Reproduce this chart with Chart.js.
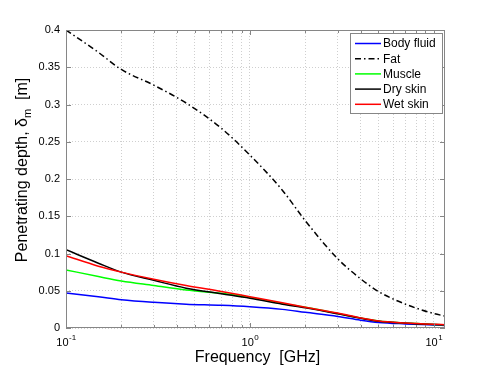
<!DOCTYPE html>
<html>
<head>
<meta charset="utf-8">
<script src="https://cdn.jsdelivr.net/npm/chart.js@4/dist/chart.umd.min.js"></script>
<style>
  html, body { margin: 0; padding: 0; background: #fff; }
  #wrap { width: 489px; height: 366px; }
</style>
</head>
<body>
<div id="wrap"><canvas id="chart" width="489" height="366"></canvas></div>
<script>
// frequency samples in GHz
const freqs     = [0.1,   0.15,  0.2,   0.3,    0.45,  0.7,   1,     1.5,   2,     3,      4,      5,      7,      10,     11.5];
const bodyFluid = [0.047, 0.042, 0.038, 0.0345, 0.032, 0.0305,0.0285,0.025, 0.021, 0.0155, 0.0105, 0.0075, 0.0055, 0.004,  0.0035];
const fat       = [0.400, 0.370, 0.347, 0.326,  0.302, 0.268, 0.232, 0.185, 0.144, 0.093,  0.066,  0.049,  0.032,  0.0194, 0.016];
const muscle    = [0.078, 0.069, 0.063, 0.057,  0.051, 0.0465,0.041, 0.033, 0.028, 0.0195, 0.0133, 0.0093, 0.0066, 0.0048, 0.0043];
const drySkin   = [0.105, 0.087, 0.075, 0.064,  0.0535,0.046, 0.040, 0.032, 0.027, 0.019,  0.013,  0.009,  0.0065, 0.0047, 0.0042];
const wetSkin   = [0.097, 0.083, 0.075, 0.0655, 0.057, 0.049, 0.042, 0.034, 0.028, 0.020,  0.0135, 0.0095, 0.0068, 0.005,  0.0045];

const seriesNames = ['Body fluid', 'Fat', 'Muscle', 'Dry skin', 'Wet skin'];
const yTicks = [0, 0.05, 0.1, 0.15, 0.2, 0.25, 0.3, 0.35, 0.4];
const xDecades = [0.1, 1, 10];
const xGridTicks = [0.1, 0.2, 0.3, 0.4, 0.5, 0.6, 0.7, 0.8, 0.9, 1, 2, 3, 4, 5, 6, 7, 8, 9, 10];

const FONT = '"Liberation Sans", Arial, Helvetica, sans-serif';
const AXIS = '#868686';

function toPoints(ys) {
  return freqs.map((f, i) => ({ x: f, y: ys[i] }));
}

const styles = [
  { color: '#0000ff', dash: [] },
  { color: '#000000', dash: [6, 3, 1.5, 3] },
  { color: '#00ff00', dash: [] },
  { color: '#000000', dash: [] },
  { color: '#ff0000', dash: [] }
];
const values = [bodyFluid, fat, muscle, drySkin, wetSkin];

const datasets = values.map((ys, i) => ({
  label: seriesNames[i],
  data: toPoints(ys),
  borderColor: styles[i].color,
  borderDash: styles[i].dash,
  borderWidth: 1.5,
  pointRadius: 0,
  cubicInterpolationMode: 'monotone',
  fill: false,
  order: values.length - i   // later series drawn on top, like MATLAB
}));

const decoration = {
  id: 'decoration',
  afterDraw(chart) {
    const { ctx, chartArea: a, scales } = chart;
    const xs = scales.x, ys = scales.y;
    ctx.save();

    // box
    ctx.strokeStyle = AXIS;
    ctx.lineWidth = 1;
    ctx.setLineDash([]);
    ctx.strokeRect(a.left + 0.5, a.top + 0.5, a.right - a.left - 1, a.bottom - a.top - 1);

    // inward tick marks
    ctx.beginPath();
    xGridTicks.forEach(v => {
      const x = Math.round(xs.getPixelForValue(v)) + 0.5;
      const len = xDecades.includes(v) ? 5 : 3;
      ctx.moveTo(x, a.bottom); ctx.lineTo(x, a.bottom - len);
      ctx.moveTo(x, a.top); ctx.lineTo(x, a.top + len);
    });
    yTicks.forEach(v => {
      const y = Math.round(ys.getPixelForValue(v)) + 0.5;
      ctx.moveTo(a.left, y); ctx.lineTo(a.left + 5, y);
      ctx.moveTo(a.right, y); ctx.lineTo(a.right - 5, y);
    });
    ctx.stroke();

    // x tick labels 10^n
    ctx.fillStyle = '#000';
    ctx.textBaseline = 'alphabetic';
    ctx.textAlign = 'left';
    xDecades.forEach(v => {
      const exp = String(Math.round(Math.log10(v)));
      ctx.font = '11px ' + FONT;
      const wb = ctx.measureText('10').width;
      ctx.font = '8px ' + FONT;
      const we = ctx.measureText(exp).width;
      const x0 = xs.getPixelForValue(v) - (wb + we) / 2;
      ctx.font = '11px ' + FONT;
      ctx.fillText('10', x0, 346);
      ctx.font = '8px ' + FONT;
      ctx.fillText(exp, x0 + wb + 0.5, 340);
    });

    // x title
    ctx.font = '16px ' + FONT;
    ctx.textAlign = 'center';
    ctx.fillText('Frequency  [GHz]', (a.left + a.right) / 2 + 2, 362);

    // y title with subscript
    ctx.save();
    ctx.translate(27, 170);
    ctx.rotate(-Math.PI / 2);
    ctx.textAlign = 'left';
    const p1 = 'Penetrating depth, \u03b4', p2 = 'm', p3 = '  [m]';
    ctx.font = '16px ' + FONT;
    const w1 = ctx.measureText(p1).width, w3 = ctx.measureText(p3).width;
    ctx.font = '11px ' + FONT;
    const w2 = ctx.measureText(p2).width;
    let sx = -(w1 + w2 + w3) / 2;
    ctx.font = '16px ' + FONT;
    ctx.fillText(p1, sx, 0);
    ctx.font = '11px ' + FONT;
    ctx.fillText(p2, sx + w1, 4);
    ctx.font = '16px ' + FONT;
    ctx.fillText(p3, sx + w1 + w2, 0);
    ctx.restore();

    // legend
    const lx = 350, ly = 33, lw = 92, lh = 80;
    ctx.fillStyle = '#fff';
    ctx.fillRect(lx, ly, lw, lh);
    ctx.strokeStyle = AXIS;
    ctx.lineWidth = 1;
    ctx.strokeRect(lx + 0.5, ly + 0.5, lw, lh);
    ctx.font = '12px ' + FONT;
    ctx.textAlign = 'left';
    ctx.textBaseline = 'middle';
    chart.data.datasets.forEach((ds, i) => {
      const y = 43.5 + i * 15.2;
      ctx.beginPath();
      ctx.strokeStyle = ds.borderColor;
      ctx.lineWidth = 1.5;
      ctx.setLineDash(ds.borderDash || []);
      ctx.moveTo(355, y); ctx.lineTo(381, y);
      ctx.stroke();
      ctx.setLineDash([]);
      ctx.fillStyle = '#000';
      ctx.fillText(ds.label, 383, y + 0.5);
    });

    ctx.restore();
  }
};

new Chart(document.getElementById('chart'), {
  type: 'line',
  data: { datasets },
  options: {
    responsive: false,
    animation: false,
    layout: { padding: { left: 0, top: 30, right: 44, bottom: 0 } },
    plugins: { legend: { display: false }, tooltip: { enabled: false } },
    scales: {
      x: {
        type: 'logarithmic',
        min: 0.1,
        max: 11.5,
        afterBuildTicks: s => { s.ticks = xGridTicks.map(v => ({ value: v })); },
        afterFit: s => { s.height = 38; },
        ticks: { display: true, callback: () => '', autoSkip: false, maxRotation: 0 },
        grid: { color: '#cfcfcf', lineWidth: 1, drawTicks: false },
        border: { display: false, dash: [1, 2] }
      },
      y: {
        type: 'linear',
        min: 0,
        max: 0.4,
        afterBuildTicks: s => { s.ticks = yTicks.map(v => ({ value: v })); },
        afterFit: s => { s.width = 66; },
        ticks: {
          color: '#000',
          padding: 6,
          font: { family: FONT, size: 11 },
          callback: v => String(+v.toFixed(2))
        },
        grid: { color: '#cfcfcf', lineWidth: 1, drawTicks: false },
        border: { display: false, dash: [1, 2] }
      }
    }
  },
  plugins: [decoration]
});
</script>
</body>
</html>
